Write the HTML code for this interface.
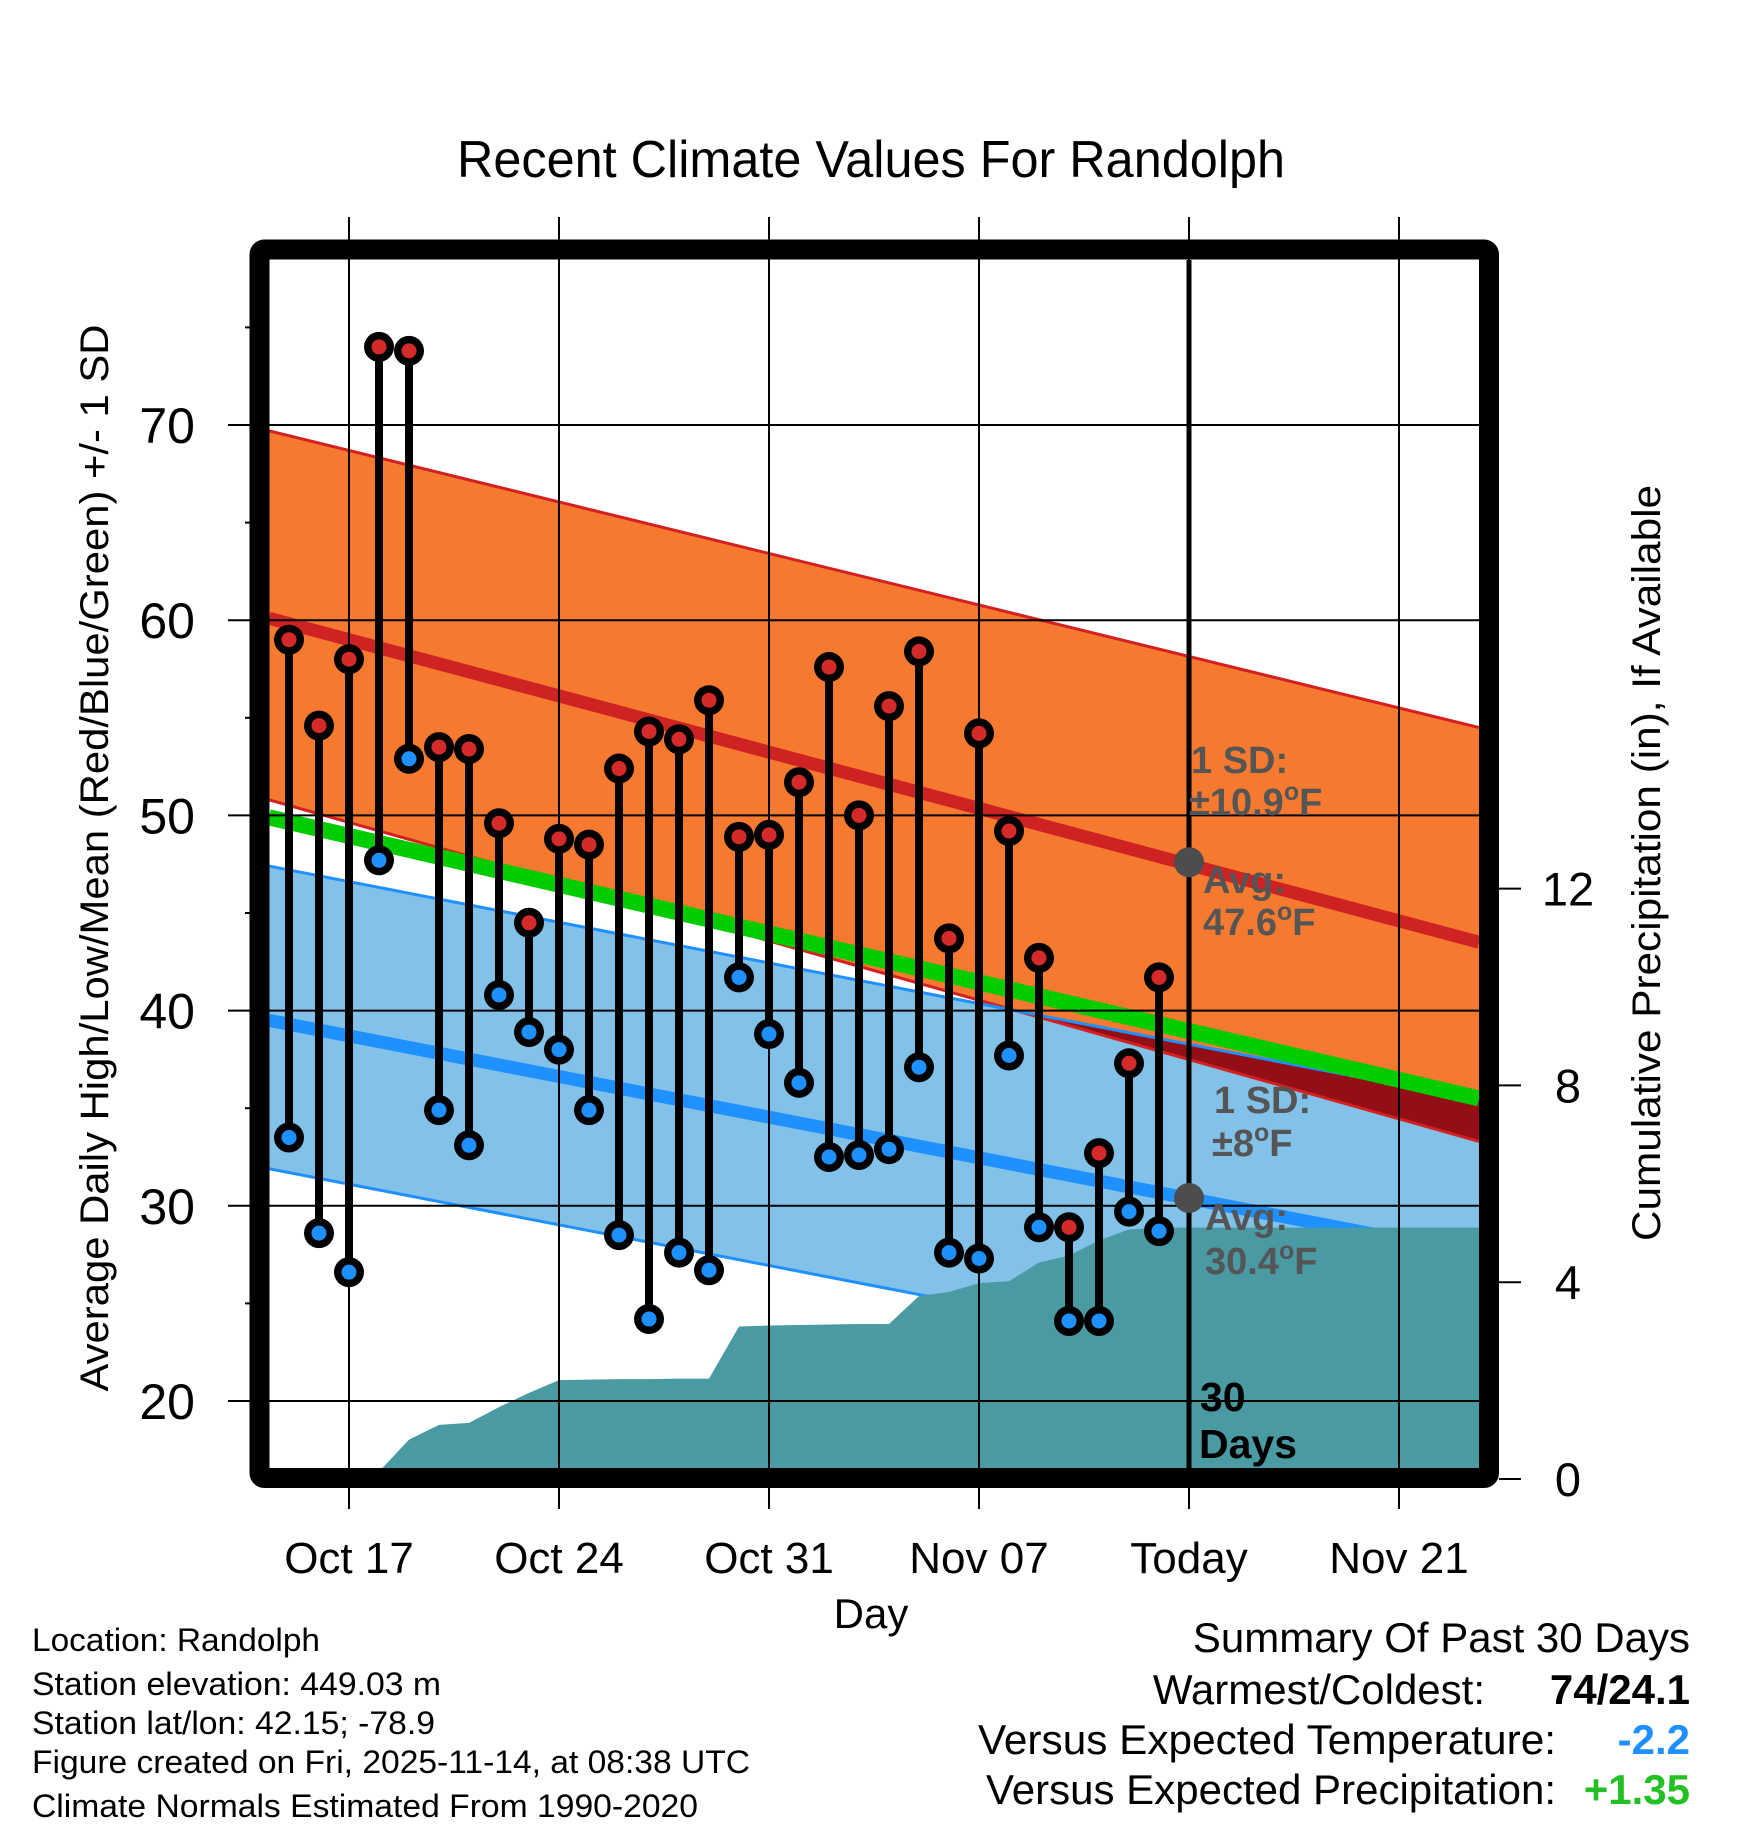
<!DOCTYPE html>
<html><head><meta charset="utf-8"><style>
html,body{margin:0;padding:0;background:#fff;}
svg{display:block;font-family:"Liberation Sans",sans-serif;}
</style></head><body>
<svg id="chart" width="1748" height="1828" viewBox="0 0 1748 1828" xmlns="http://www.w3.org/2000/svg">
<defs>
<clipPath id="plotClip"><rect x="269" y="260" width="1210" height="1208"/></clipPath>
<clipPath id="highBandClip"><polygon id="hbClipPoly" points=""/></clipPath>
</defs>
<text x="871" y="177" font-size="52" text-anchor="middle" textLength="828" lengthAdjust="spacingAndGlyphs">Recent Climate Values For Randolph</text>
<g id="plot" clip-path="url(#plotClip)"></g>
<g id="grid"></g>
<g id="marks"></g>
<g id="annot"></g>
<rect x="259.5" y="249.5" width="1229.5" height="1228.5" rx="5" fill="none" stroke="#000" stroke-width="20"/>
<g id="axes"></g>
<text transform="translate(108,858) rotate(-90)" font-size="40" text-anchor="middle" textLength="1067" lengthAdjust="spacingAndGlyphs">Average Daily High/Low/Mean (Red/Blue/Green) +/- 1 SD</text>
<text transform="translate(1660,863) rotate(-90)" font-size="40" text-anchor="middle" textLength="756" lengthAdjust="spacingAndGlyphs">Cumulative Precipitation (in), If Available</text>
<text x="871" y="1628" font-size="42" text-anchor="middle">Day</text>
<g font-size="32">
<text x="32" y="1651" textLength="288" lengthAdjust="spacingAndGlyphs">Location: Randolph</text>
<text x="32" y="1695" textLength="409" lengthAdjust="spacingAndGlyphs">Station elevation: 449.03 m</text>
<text x="32" y="1734" textLength="403" lengthAdjust="spacingAndGlyphs">Station lat/lon: 42.15; -78.9</text>
<text x="32" y="1773" textLength="718" lengthAdjust="spacingAndGlyphs">Figure created on Fri, 2025-11-14, at 08:38 UTC</text>
<text x="32" y="1817" textLength="666" lengthAdjust="spacingAndGlyphs">Climate Normals Estimated From 1990-2020</text>
</g>
<g font-size="42">
<text x="1690" y="1652" text-anchor="end">Summary Of Past 30 Days</text>
<text x="1485" y="1704" text-anchor="end">Warmest/Coldest:</text>
<text x="1690" y="1704" text-anchor="end" font-weight="bold">74/24.1</text>
<text x="1556" y="1754" text-anchor="end" textLength="578" lengthAdjust="spacingAndGlyphs">Versus Expected Temperature:</text>
<text x="1690" y="1754" text-anchor="end" font-weight="bold" fill="#1e90ff">-2.2</text>
<text x="1556" y="1804" text-anchor="end" textLength="570" lengthAdjust="spacingAndGlyphs">Versus Expected Precipitation:</text>
<text x="1690" y="1804" text-anchor="end" font-weight="bold" fill="#22c022">+1.35</text>
</g>
</svg>
<script>
// day index 0 = Oct 15
const days = ["Oct 15","Oct 16","Oct 17","Oct 18","Oct 19","Oct 20","Oct 21","Oct 22","Oct 23","Oct 24","Oct 25","Oct 26","Oct 27","Oct 28","Oct 29","Oct 30","Oct 31","Nov 01","Nov 02","Nov 03","Nov 04","Nov 05","Nov 06","Nov 07","Nov 08","Nov 09","Nov 10","Nov 11","Nov 12","Nov 13"];
const highs = [59.0,54.6,58.0,74.0,73.8,53.5,53.4,49.6,44.5,48.8,48.5,52.4,54.3,53.9,55.9,48.9,49.0,51.7,57.6,50.0,55.6,58.4,43.7,54.2,49.2,42.7,28.9,32.7,37.3,41.7];
const lows = [33.5,28.6,26.6,47.7,52.9,34.9,33.1,40.8,38.9,38.0,34.9,28.5,24.2,27.6,26.7,41.7,38.8,36.3,32.5,32.6,32.9,37.1,27.6,27.3,37.7,28.9,24.1,24.1,29.7,28.7];
const precip = [0,0,0,0.15,0.8,1.1,1.14,1.46,1.75,2.01,2.02,2.03,2.03,2.04,2.04,3.1,3.12,3.13,3.14,3.15,3.15,3.72,3.8,3.98,4.02,4.4,4.54,4.85,5.07,5.11];
// normals at plot left edge and right edge
const normalEdges = [-0.667, 39.667];
const highAvg = [60.1, 43.5];
const highUpper = [69.7, 54.5];
const highLower = [50.8, 33.3];
const lowAvg = [39.5, 27.5];
const lowUpper = [47.4, 35.4];
const lowLower = [31.9, 19.9];
const meanAvg = [49.9, 35.5];
const xTickDays = [2, 9, 16, 23, 30, 37];
const xTickLabels = ["Oct 17","Oct 24","Oct 31","Nov 07","Today","Nov 21"];
const yTicks = [20, 30, 40, 50, 60, 70];
const yMinorTicks = [25, 35, 45, 55, 65, 75];
const pTicks = [0, 4, 8, 12];
const todayIndex = 30;
const todayHighAvg = 47.6, todayLowAvg = 30.4;

const NS = "http://www.w3.org/2000/svg";
const X = d => 289 + 30 * d;
const YT = t => 1401 - (t - 20) * 19.52;
const YP = p => 1479 - p * 49.2;
function mk(tag, attrs, parent) {
  const e = document.createElementNS(NS, tag);
  for (const k in attrs) e.setAttribute(k, attrs[k]);
  parent.appendChild(e);
  return e;
}
const plot = document.getElementById("plot");
const grid = document.getElementById("grid");
const marks = document.getElementById("marks");
const annot = document.getElementById("annot");
const axes = document.getElementById("axes");
const bandPts = (up, lo) => `${X(normalEdges[0])},${YT(up[0])} ${X(normalEdges[1])},${YT(up[1])} ${X(normalEdges[1])},${YT(lo[1])} ${X(normalEdges[0])},${YT(lo[0])}`;

let e;
e = mk("polygon", {points: bandPts(highUpper, highLower), fill: "#f5792e"}, plot);


document.getElementById("hbClipPoly").setAttribute("points", bandPts(highUpper, highLower));
e = mk("polygon", {points: bandPts(lowUpper, lowLower), fill: "#82c1e8"}, plot);


e = mk("polygon", {points: bandPts(lowUpper, lowLower), fill: "#930f16", "clip-path": "url(#highBandClip)"}, plot);



function nline(arr, color, w, name) {
  const l = mk("line", {x1: X(normalEdges[0]), y1: YT(arr[0]), x2: X(normalEdges[1]), y2: YT(arr[1]), stroke: color, "stroke-width": w}, plot);
  
  
}
nline(highUpper, "#d42020", 3, "high-sd-upper-line");
nline(highLower, "#d42020", 3, "high-sd-lower-line");
nline(lowUpper, "#1e90ff", 3, "low-sd-upper-line");
nline(lowLower, "#1e90ff", 3, "low-sd-lower-line");
nline(highAvg, "#cf2222", 13, "avg-high-line");
nline(lowAvg, "#1e90ff", 13, "avg-low-line");
nline(meanAvg, "#00cc00", 16, "avg-mean-line");

// precipitation area
let pts = `${X(0)},${YP(0)} `;
precip.forEach((p, i) => { pts += `${X(i)},${YP(p)} `; });
pts += `${X(normalEdges[1])},${YP(precip[precip.length - 1])} ${X(normalEdges[1])},${YP(0)}`;
e = mk("polygon", {points: pts, fill: "#4a9aa3"}, plot);



// grid
yTicks.forEach(t => {
  const l = mk("line", {x1: 228, y1: YT(t), x2: 1479, y2: YT(t), stroke: "#000", "stroke-width": 2}, grid);
  
  
  const tx = mk("text", {x: 195, y: YT(t) + 18, "font-size": 50, "text-anchor": "end"}, axes);
  tx.textContent = t;
  
  
});
yMinorTicks.forEach(t => {
  const l = mk("line", {x1: 245, y1: YT(t), x2: 252, y2: YT(t), stroke: "#000", "stroke-width": 2}, axes);
  
  
});
xTickDays.forEach((d, i) => {
  const l = mk("line", {x1: X(d), y1: 217, x2: X(d), y2: 1509, stroke: "#000", "stroke-width": 2}, grid);
  
  
  const tx = mk("text", {x: X(d), y: 1573, "font-size": 44, "text-anchor": "middle"}, axes);
  tx.textContent = xTickLabels[i];
  
  
});
pTicks.forEach(p => {
  const l = mk("line", {x1: 1499, y1: YP(p), x2: 1521, y2: YP(p), stroke: "#000", "stroke-width": 2}, axes);
  
  
  const tx = mk("text", {x: 1568, y: YP(p) + 17, "font-size": 47, "text-anchor": "middle"}, axes);
  tx.textContent = p;
  
  
});
// today line
e = mk("line", {x1: X(todayIndex), y1: 260, x2: X(todayIndex), y2: 1468, stroke: "#000", "stroke-width": 5}, grid);



// daily stems & markers
days.forEach((d, i) => {
  const x = X(i);
  const s = mk("line", {x1: x, y1: YT(highs[i]), x2: x, y2: YT(lows[i]), stroke: "#000", "stroke-width": 8}, marks);
  
  
  [[highs[i], "#d42a2a", "high-marker"], [lows[i], "#1e90ff", "low-marker"]].forEach(([v, c, n]) => {
    const g = mk("g", {}, marks);
    
    
    mk("circle", {cx: x, cy: YT(v), r: 15, fill: "#000"}, g);
    mk("circle", {cx: x, cy: YT(v), r: 7.5, fill: c}, g);
  });
});

// annotations
[todayHighAvg, todayLowAvg].forEach(v => {
  const c = mk("circle", {cx: X(todayIndex), cy: YT(v), r: 15, fill: "#4d4d4d"}, annot);
  
  
});
function label(x, y, txt, deg, color, name, fs) {
  const t = mk("text", {x: x, y: y, "font-size": fs || 38, "font-weight": "bold", fill: color}, annot);
  
  
  t.appendChild(document.createTextNode(txt));
  if (deg) {
    const sup = mk("tspan", {"font-size": 25, dy: -15}, t);
    sup.textContent = "o";
    const f = mk("tspan", {dy: 15}, t);
    f.textContent = "F";
  }
}
label(1191, 773, "1 SD:", false, "#555", "high-sd-label");
label(1189, 815, "\u00b110.9", true, "#555", "high-sd-value");
label(1203, 893, "Avg:", false, "#555", "high-avg-label");
label(1203, 935, "47.6", true, "#555", "high-avg-value");
label(1214, 1113, "1 SD:", false, "#555", "low-sd-label");
label(1212, 1156, "\u00b18", true, "#555", "low-sd-value");
label(1205, 1230, "Avg:", false, "#555", "low-avg-label");
label(1205, 1274, "30.4", true, "#555", "low-avg-value");
label(1200, 1411, "30", false, "#000", "days-count-label", 41);
label(1199, 1458, "Days", false, "#000", "days-word-label", 41);
</script>
</body></html>
